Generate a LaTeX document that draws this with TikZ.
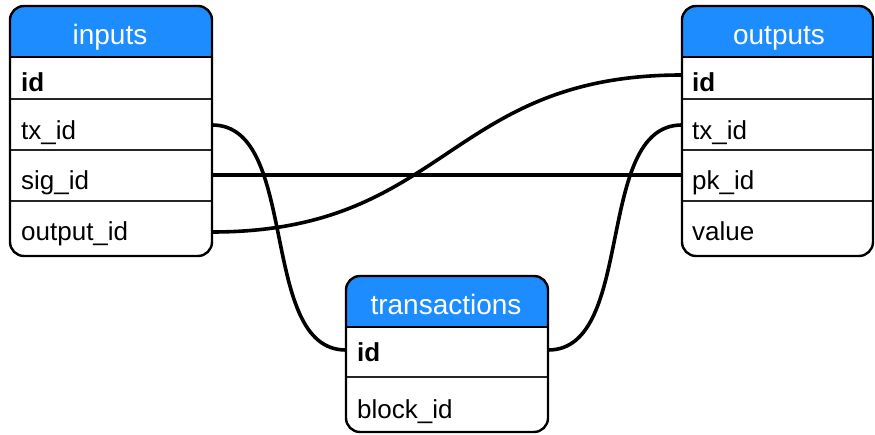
\documentclass[tikz,border=0pt]{standalone}
\usepackage{fontspec}
\setmainfont{Liberation Sans}
\definecolor{hdrblue}{RGB}{28,140,255}
\tikzset{
  frame/.style={line width=2.4pt, rounded corners=14pt},
  sepline/.style={line width=1.3pt, draw=black!85},
  hdrline/.style={line width=2pt},
  hdrtext/.style={anchor=base, text=white, font=\fontsize{28}{30}\selectfont, inner sep=0pt},
  rowtext/.style={anchor=base west, font=\fontsize{26}{28}\selectfont, inner sep=0pt},
  rowanchor/.style={inner sep=0pt, minimum height=20pt, draw=none},
  link/.style={line width=3.6pt}
}
\begin{document}
\begin{tikzpicture}[x=1pt,y=-1pt]
\useasboundingbox (0,0) rectangle (875,435);

% ---------- inputs ----------
\fill[white,rounded corners=14pt] (10,6) rectangle (212,256);
\begin{scope}
  \clip[rounded corners=14pt] (10,6) rectangle (212,256);
  \fill[hdrblue] (10,6) rectangle (212,57);
\end{scope}
\draw[hdrline] (10,57) -- (212,57);
\draw[sepline] (10,99) -- (212,99) (10,150) -- (212,150) (10,201) -- (212,201);
\draw[frame] (10,6) rectangle (212,256);
\node[hdrtext] (in-h) at (110,45) {inputs};
\node[rowtext] (in-id-t) at (21,92) {\bfseries id};
\node[rowtext] (in-tx-t) at (21,140) {tx\_id};
\node[rowtext] (in-sig-t) at (21,190) {sig\_id};
\node[rowtext] (in-out-t) at (21,241) {output\_id};
\node[rowanchor, minimum width=202pt] (in-tx) at (111,125) {};
\node[rowanchor, minimum width=202pt] (in-sig) at (111,175) {};
\node[rowanchor, minimum width=202pt] (in-out) at (111,232) {};

% ---------- outputs ----------
\fill[white,rounded corners=14pt] (682,6) rectangle (873,256);
\begin{scope}
  \clip[rounded corners=14pt] (682,6) rectangle (873,256);
  \fill[hdrblue] (682,6) rectangle (873,57);
\end{scope}
\draw[hdrline] (682,57) -- (873,57);
\draw[sepline] (682,99) -- (873,99) (682,150) -- (873,150) (682,201) -- (873,201);
\draw[frame] (682,6) rectangle (873,256);
\node[hdrtext] (out-h) at (779,45) {outputs};
\node[rowtext] (out-id-t) at (692,92) {\bfseries id};
\node[rowtext] (out-tx-t) at (692,140) {tx\_id};
\node[rowtext] (out-pk-t) at (692,190) {pk\_id};
\node[rowtext] (out-val-t) at (692,241) {value};
\node[rowanchor, minimum width=191pt] (out-id) at (777.5,75) {};
\node[rowanchor, minimum width=191pt] (out-tx) at (777.5,125) {};
\node[rowanchor, minimum width=191pt] (out-pk) at (777.5,175) {};

% ---------- transactions ----------
\fill[white,rounded corners=14pt] (346,276) rectangle (548,432);
\begin{scope}
  \clip[rounded corners=14pt] (346,276) rectangle (548,432);
  \fill[hdrblue] (346,276) rectangle (548,327);
\end{scope}
\draw[hdrline] (346,327) -- (548,327);
\draw[sepline] (346,377) -- (548,377);
\draw[frame] (346,276) rectangle (548,432);
\node[hdrtext] (tx-h) at (446,315) {transactions};
\node[rowtext] (tx-id-t) at (357,362) {\bfseries id};
\node[rowtext] (tx-blk-t) at (357,418) {block\_id};
\node[rowanchor, minimum width=202pt] (tx-id) at (447,350) {};

% ---------- connectors ----------
\draw[link] (in-tx.east) to[out=0,in=180,looseness=0.86] (tx-id.west);
\draw[link] (in-sig.east) -- (out-pk.west);
\draw[link] (in-out.east) to[out=0,in=180,looseness=1.21] (out-id.west);
\draw[link] (tx-id.east) to[out=0,in=180,looseness=0.86] (out-tx.west);
\end{tikzpicture}
\end{document}
